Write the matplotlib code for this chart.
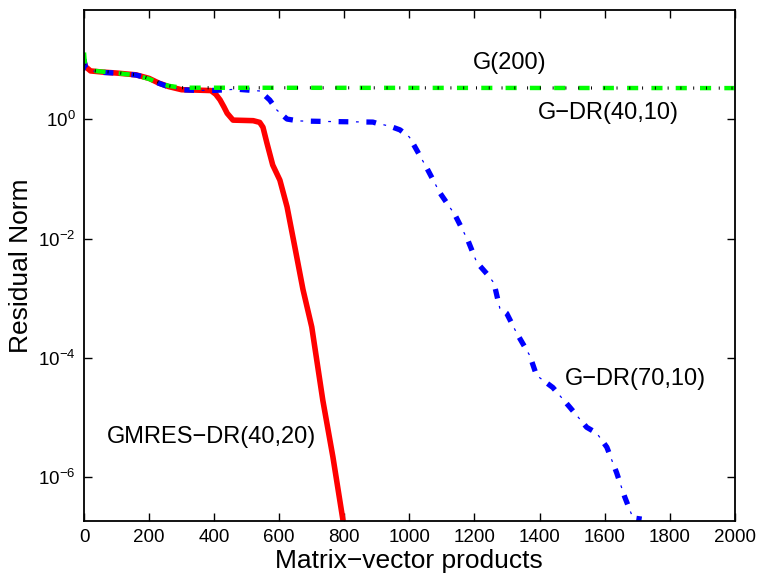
import numpy as np
import matplotlib
matplotlib.use('Agg')
import matplotlib.pyplot as plt

plt.rcParams['font.family'] = ['Liberation Sans', 'DejaVu Sans']
plt.rcParams['mathtext.fontset'] = 'custom'
plt.rcParams['mathtext.rm'] = 'Liberation Sans'
plt.rcParams['lines.scale_dashes'] = False

# GMRES-DR(40,20)
x_red = [0, 5, 20, 60, 100, 160, 200, 230, 260, 300, 350, 390, 405, 418, 430, 440,
         458, 490, 520, 540, 550, 562, 580, 602, 624, 648, 673, 700, 734, 765, 796, 805]
y_red = [9.0, 7.5, 6.4, 6.1, 5.9, 5.5, 4.8, 4.0, 3.5, 3.1, 3.05, 3.0, 2.6, 2.1, 1.6, 1.25,
         0.96, 0.95, 0.94, 0.88, 0.73, 0.40, 0.17, 9.5e-2, 3.4e-2, 7.2e-3, 1.4e-3, 3.3e-4,
         1.95e-5, 2.2e-6, 1.9e-7, 1e-7]

# G-DR(70,10)
x_blue = [0, 5, 20, 60, 100, 160, 200, 230, 260, 300, 350, 400, 470, 541, 571, 593, 624,
          660, 750, 888, 900, 940, 971, 1000, 1023, 1054, 1094, 1140, 1180, 1207, 1240,
          1260, 1278, 1299, 1330, 1370, 1391, 1441, 1493, 1545, 1576, 1607, 1637, 1662,
          1687, 1714]
y_blue = [10.0, 7.08, 6.46, 6.03, 5.89, 5.46, 4.79, 3.98, 3.47, 3.09, 3.02, 3.02, 3.16,
          2.95, 2.08, 1.41, 1.0, 0.93, 0.91, 0.89, 0.85, 0.76, 0.66, 0.50, 0.30, 0.15,
          0.058, 0.025, 9.3e-3, 4.0e-3, 2.5e-3, 1.8e-3, 6.8e-4, 5.6e-4, 2.6e-4, 1.1e-4,
          5.1e-5, 3.2e-5, 1.5e-5, 6.9e-6, 5.5e-6, 3.2e-6, 1.2e-6, 4.7e-7, 2.1e-7, 2.0e-7]

# G(200)
x_green = [0, 3, 20, 60, 100, 160, 200, 230, 260, 300, 2000]
y_green = [13.0, 8.0, 6.5, 6.2, 5.9, 5.4, 4.7, 4.0, 3.6, 3.35, 3.3]

# G-DR(40,10)
x_black = [0, 20, 100, 160, 200, 230, 260, 300, 2000]
y_black = [8.0, 6.5, 6.0, 5.5, 4.8, 4.1, 3.6, 3.35, 3.3]

labels = ['G(200)', 'G\u2212DR(40,10)', 'G\u2212DR(70,10)', 'GMRES\u2212DR(40,20)']
label_x = [1309, 1613, 1696, 391]
label_y = [8.6, 1.26, 4.4e-5, 4.8e-6]

fig = plt.figure(figsize=(7.59, 5.79), dpi=100)
ax = fig.add_axes([0.1107, 0.1002, 0.8573, 0.8825])

ax.plot(x_red, y_red, color='red', lw=4, solid_capstyle='butt')
# thick dashes + thin dots for the dash-dot line
ax.plot(x_blue, y_blue, color='blue', lw=3.8, linestyle=(0, (7, 13)))
ax.plot(x_blue, y_blue, color='blue', lw=0.9, linestyle=(7.5, (2, 18)))
ax.plot(x_green, y_green, color='#00ff00', lw=3.2, linestyle=(0, (8, 9.5)))
ax.plot(x_black, y_black, color='black', lw=2.3, linestyle=(0, (0.7, 8.5)))

for t, tx, ty in zip(labels, label_x, label_y):
    ax.text(tx, ty, t, fontsize=17, ha='center', va='center')

ax.set_yscale('log')
ax.set_xlim(0, 2000)
ax.set_ylim(10**-6.73, 10**1.826)
ax.set_xticks(np.arange(0, 2001, 200))
ax.set_yticks([1e-6, 1e-4, 1e-2, 1e0])
ax.yaxis.set_minor_locator(matplotlib.ticker.NullLocator())
ax.tick_params(direction='in', top=True, right=True, length=6, width=1,
               labelsize=13.5, pad=6)
for s in ax.spines.values():
    s.set_linewidth(1.3)

ax.set_xlabel('Matrix\u2212vector products', fontsize=19, labelpad=2)
ax.set_ylabel('Residual Norm', fontsize=19, labelpad=4)

plt.savefig('out.png', dpi=100)
